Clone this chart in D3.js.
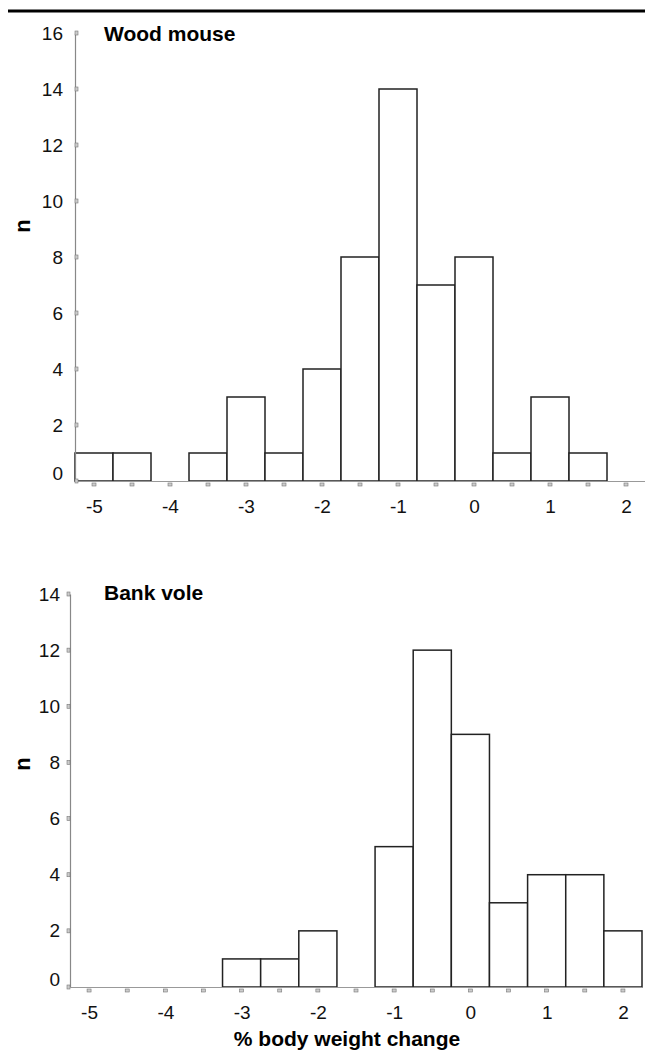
<!DOCTYPE html>
<html>
<head>
<meta charset="utf-8">
<script src="https://cdn.jsdelivr.net/npm/d3@7"></script>
<style>
	body { margin: 0; background: #fff; }
	text { font-family: "Liberation Sans", Arial, sans-serif; }
</style>
</head>
<body>
<div id="chart"></div>
<script>
// bin centres (% body weight change), bins are 0.5 wide
const binCenters = [-5, -4.5, -4, -3.5, -3, -2.5, -2, -1.5, -1, -0.5, 0, 0.5, 1, 1.5, 2];
const woodMouse = [1, 1, 0, 1, 3, 1, 4, 8, 14, 7, 8, 1, 3, 1, 0];
const bankVole = [0, 0, 0, 0, 1, 1, 2, 0, 5, 12, 9, 3, 4, 4, 2];
const xTicks = [-5, -4, -3, -2, -1, 0, 1, 2];
const woodTicks = [0, 2, 4, 6, 8, 10, 12, 14, 16];
const voleTicks = [0, 2, 4, 6, 8, 10, 12, 14];

const svg = d3.select("#chart")
	.append("svg")
	.attr("width", 645)
	.attr("height", 1055);

// rule across the top
svg.append("line")
	.attr("x1", 8).attr("x2", 645)
	.attr("y1", 11).attr("y2", 11)
	.attr("stroke", "#000")
	.attr("stroke-width", 3);

function panel(opts) {
	const x = d3.scaleLinear().domain([-5.25, 2.25]).range([opts.left, opts.right]);
	const y = d3.scaleLinear().domain([0, opts.ymax]).range([opts.bottom, opts.top]);
	const g = svg.append("g");

	// bars
	g.selectAll("rect.bar")
		.data(binCenters.map((c, i) => ({ c: c, n: opts.values[i] })).filter((d) => d.n > 0))
		.enter()
		.append("rect")
		.attr("class", "bar")
		.attr("x", (d) => x(d.c - 0.25))
		.attr("width", (d) => x(d.c + 0.25) - x(d.c - 0.25))
		.attr("y", (d) => y(d.n))
		.attr("height", (d) => y(0) - y(d.n))
		.attr("fill", "#fff")
		.attr("stroke", "#222")
		.attr("stroke-width", 1.5);

	// x axis
	const xa = g.append("g")
		.attr("transform", "translate(0," + opts.bottom + ")")
		.call(d3.axisBottom(x).tickValues(xTicks).tickSize(0).tickPadding(19).tickFormat((d) => String(d)));
	xa.select(".domain").attr("stroke", "#999").attr("stroke-width", 1.2);
	xa.selectAll("text").attr("font-size", 19).attr("fill", "#111");

	// small square tick marks at bin centres
	g.selectAll("rect.xt")
		.data(binCenters)
		.enter()
		.append("rect")
		.attr("class", "xt")
		.attr("x", (d) => x(d) - 2)
		.attr("y", opts.bottom + 2)
		.attr("width", 4)
		.attr("height", 3)
		.attr("fill", "#ccc")
		.attr("stroke", "#777")
		.attr("stroke-width", 0.6);

	// y axis
	const ya = g.append("g")
		.attr("transform", "translate(" + opts.left + ",0)")
		.call(d3.axisLeft(y).tickValues(opts.ticks).tickSize(0).tickPadding(opts.pad).tickFormat((d) => String(d)));
	ya.select(".domain").attr("stroke", "#888").attr("stroke-width", 1.2);
	ya.selectAll("text").attr("font-size", 19).attr("fill", "#111");
	ya.selectAll(".tick").filter((d) => d === 0).select("text").attr("dy", "-0.1em");

	g.selectAll("rect.yt")
		.data(opts.ticks)
		.enter()
		.append("rect")
		.attr("class", "yt")
		.attr("x", opts.left + opts.tickOff)
		.attr("y", (d) => y(d) - 2)
		.attr("width", 3)
		.attr("height", 4)
		.attr("fill", "#ccc")
		.attr("stroke", "#777")
		.attr("stroke-width", 0.6);

	g.append("text")
		.attr("x", 104)
		.attr("y", opts.titleY)
		.attr("font-size", 21)
		.attr("font-weight", "bold")
		.text(opts.title);

	g.append("text")
		.attr("transform", "translate(30," + opts.nY + ") rotate(-90)")
		.attr("text-anchor", "middle")
		.attr("font-size", 22)
		.attr("font-weight", "bold")
		.text("n");
}

panel({
	values: woodMouse, ymax: 16, ticks: woodTicks,
	left: 75, right: 645, top: 33, bottom: 481,
	pad: 12, tickOff: 0, title: "Wood mouse", titleY: 41, nY: 226
});

panel({
	values: bankVole, ymax: 14, ticks: voleTicks,
	left: 70, right: 642, top: 594, bottom: 987,
	pad: 10, tickOff: -3, title: "Bank vole", titleY: 600, nY: 764
});

svg.append("text")
	.attr("x", 347)
	.attr("y", 1046)
	.attr("text-anchor", "middle")
	.attr("font-size", 21)
	.attr("font-weight", "bold")
	.text("% body weight change");
</script>
</body>
</html>
